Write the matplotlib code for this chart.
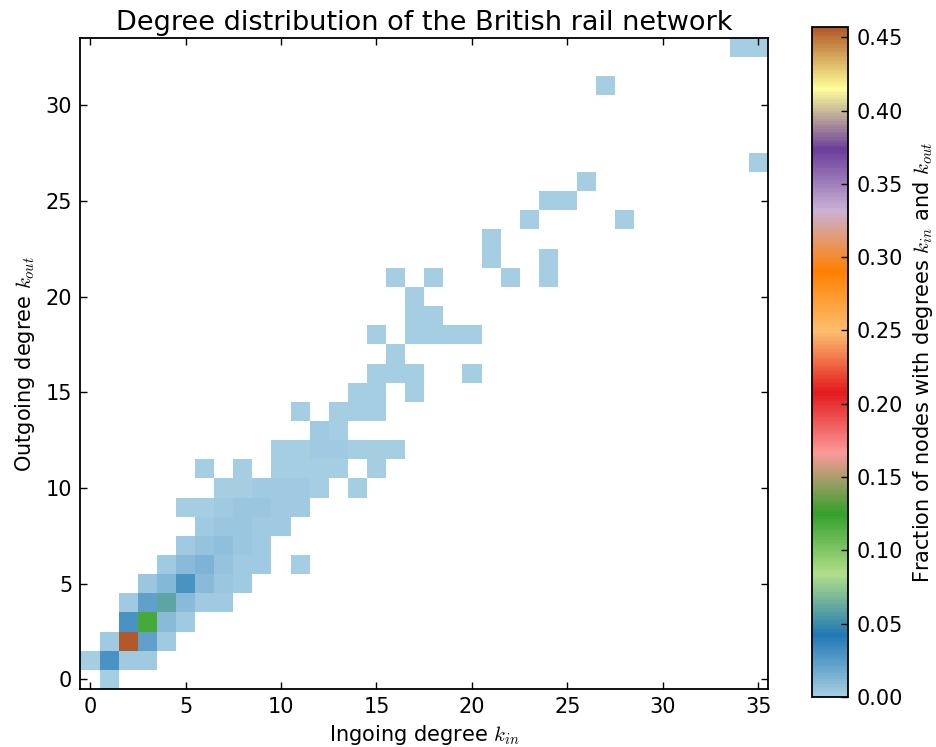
"""
Degree distribution (in vs out) of the British rail network.
"""

import numpy as np
import matplotlib
matplotlib.use('Agg')
import matplotlib.pyplot as plt
from matplotlib.colors import LinearSegmentedColormap

# cells with non-zero fraction: ingoing degree, outgoing degree, fraction of nodes
k_in = [1,
        0, 1, 2, 3,
        1, 2, 3, 4,
        2, 3, 4, 5,
        2, 3, 4, 5, 6, 7,
        3, 4, 5, 6, 7, 8,
        4, 5, 6, 7, 8, 9, 11,
        5, 6, 7, 8, 9,
        6, 7, 8, 9, 10,
        5, 6, 7, 8, 9, 10, 11,
        7, 8, 9, 10, 11, 12, 14,
        6, 8, 10, 11, 12, 13, 15,
        10, 11, 12, 13, 14, 15, 16,
        12, 13,
        11, 13, 14, 15,
        14, 15, 17,
        15, 16, 17, 20,
        16,
        15, 17, 18, 19, 20,
        17, 18,
        17,
        16, 18, 22, 24,
        21, 24,
        21,
        23, 28,
        24, 25,
        26,
        35,
        27,
        34, 35]
k_out = [0,
         1, 1, 1, 1,
         2, 2, 2, 2,
         3, 3, 3, 3,
         4, 4, 4, 4, 4, 4,
         5, 5, 5, 5, 5, 5,
         6, 6, 6, 6, 6, 6, 6,
         7, 7, 7, 7, 7,
         8, 8, 8, 8, 8,
         9, 9, 9, 9, 9, 9, 9,
         10, 10, 10, 10, 10, 10, 10,
         11, 11, 11, 11, 11, 11, 11,
         12, 12, 12, 12, 12, 12, 12,
         13, 13,
         14, 14, 14, 14,
         15, 15, 15,
         16, 16, 16, 16,
         17,
         18, 18, 18, 18, 18,
         19, 19,
         20,
         21, 21, 21, 21,
         22, 22,
         23,
         24, 24,
         25, 25,
         26,
         27,
         31,
         33, 33]
frac = [0.001,
        0.001, 0.030, 0.003, 0.003,
        0.002, 0.457, 0.023, 0.003,
        0.030, 0.119, 0.010, 0.003,
        0.002, 0.022, 0.060, 0.010, 0.002, 0.002,
        0.004, 0.011, 0.030, 0.010, 0.004, 0.003,
        0.003, 0.009, 0.013, 0.006, 0.003, 0.003, 0.001,
        0.002, 0.006, 0.008, 0.005, 0.002,
        0.002, 0.004, 0.004, 0.003, 0.002,
        0.001, 0.001, 0.002, 0.005, 0.004, 0.003, 0.002,
        0.001, 0.001, 0.002, 0.002, 0.002, 0.001, 0.001,
        0.001, 0.001, 0.001, 0.001, 0.001, 0.001, 0.001,
        0.001, 0.001, 0.002, 0.002, 0.001, 0.001, 0.001,
        0.002, 0.001,
        0.001, 0.001, 0.001, 0.001,
        0.001, 0.001, 0.001,
        0.001, 0.001, 0.001, 0.001,
        0.001,
        0.001, 0.001, 0.001, 0.001, 0.001,
        0.001, 0.001,
        0.001,
        0.001, 0.001, 0.001, 0.001,
        0.001, 0.001,
        0.001,
        0.001, 0.001,
        0.001, 0.001,
        0.001,
        0.001,
        0.001,
        0.001, 0.001]

max_in = 35
max_out = 33
cbar_ticks = [0.00, 0.05, 0.10, 0.15, 0.20, 0.25, 0.30, 0.35, 0.40, 0.45]

plt.rcParams['mathtext.fontset'] = 'cm'
plt.rcParams['font.family'] = 'DejaVu Sans'

# smooth version of the Paired colour map (as in older matplotlib)
paired = LinearSegmentedColormap.from_list('paired_smooth', plt.get_cmap('Paired').colors, N=256)

grid = np.zeros((max_out + 1, max_in + 1))
for i, j, f in zip(k_in, k_out, frac):
    grid[j, i] = f
grid = np.ma.masked_equal(grid, 0.0)

fig = plt.figure(figsize=(9.36, 7.47), dpi=100)
ax = fig.add_axes([0.086, 0.0776, 0.7345, 0.8715])
cax = fig.add_axes([0.8675, 0.0669, 0.0385, 0.897])

x_edges = np.arange(-0.5, max_in + 1)
y_edges = np.arange(-0.5, max_out + 1)
mesh = ax.pcolormesh(x_edges, y_edges, grid, cmap=paired, vmin=0, vmax=max(frac))

ax.set_xlim(-0.5, max_in + 0.5)
ax.set_ylim(-0.5, max_out + 0.5)
ax.set_xticks([0, 5, 10, 15, 20, 25, 30, 35])
ax.set_yticks([0, 5, 10, 15, 20, 25, 30])
ax.tick_params(direction='in', top=True, right=True, length=5, width=1, labelsize=15, pad=6)
for sp in ax.spines.values():
    sp.set_linewidth(1.3)

ax.set_xlabel(r"Ingoing degree $k_{in}$", fontsize=15, labelpad=4)
ax.set_ylabel(r"Outgoing degree $k_{out}$", fontsize=15, labelpad=6)
ax.set_title("Degree distribution of the British rail network", fontsize=19.5, pad=6)

cb = fig.colorbar(mesh, cax=cax, ticks=cbar_ticks, format='%.2f')
cb.ax.tick_params(direction='in', length=5, width=1, labelsize=15, pad=6)
cb.outline.set_linewidth(1.3)
cb.set_label(r"Fraction of nodes with degrees $k_{in}$ and $k_{out}$", fontsize=15, labelpad=6)

fig.savefig("out.png", dpi=100)
plt.close(fig)
